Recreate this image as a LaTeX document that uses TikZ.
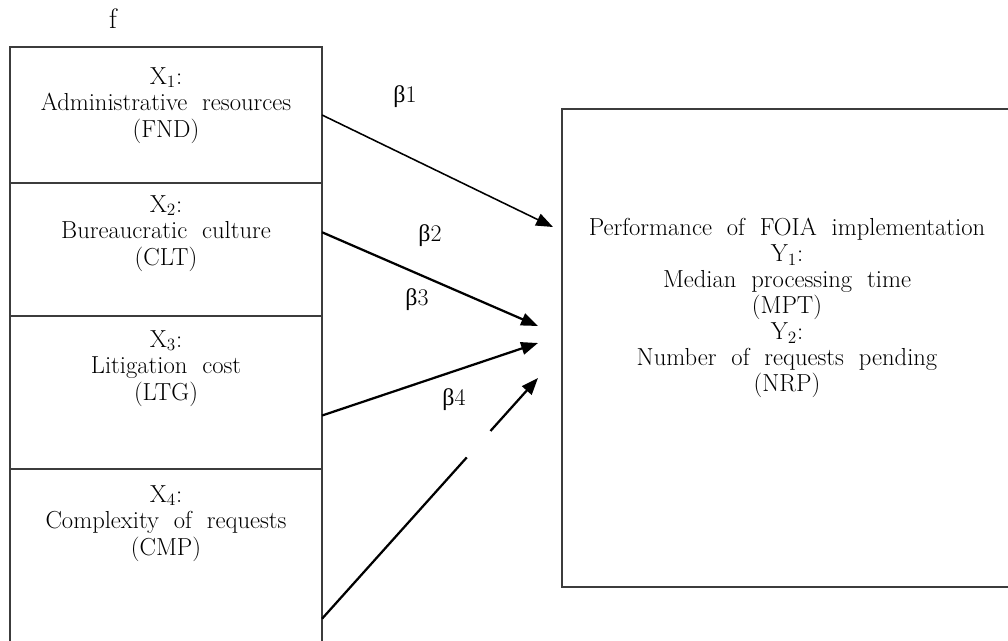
\documentclass[tikz,border=0pt]{standalone}
\usepackage{fontspec}
\setmainfont{Latin Modern Roman}[WordSpace=2]
\usepackage{tikz}
\usetikzlibrary{arrows.meta,calc,positioning}
\newfontfamily\betafont{Liberation Serif}
\definecolor{boxgray}{HTML}{3C3C3C}

\begin{document}
\begin{tikzpicture}[x=0.025cm,y=-0.025cm,
  var/.style={draw=boxgray,line width=1pt,minimum width=7.8cm,
              inner sep=0pt,outer sep=0pt},
  txt/.style={align=center,inner sep=0pt,font=\fontsize{17.5}{19}\selectfont},
  lab/.style={font=\fontsize{17}{19}\selectfont,inner sep=0pt},
  arr/.style={draw,line width=1.6pt,-{Triangle[length=12pt,width=9pt]}},
  node distance=0cm]
  \useasboundingbox (0,0) rectangle (1008,640);
  \node[txt,font=\fontsize{20}{22}\selectfont] (f) at (113,19) {f};
  \node[var,minimum height=3.4cm] (fnd) at (166,115) {};
  \node[var,minimum height=3.325cm,below=of fnd] (clt) {};
  \node[var,minimum height=3.825cm,below=of clt] (ltg) {};
  \node[var,minimum height=4.4cm,below=of ltg] (cmp) {};
  \node[var,minimum width=11.25cm,minimum height=11.95cm] (perf) at (787,348) {};
  \node[txt,below=0.5cm of fnd.north] (fndtxt) {X\textsubscript{1}:\\Administrative resources\\(FND)};
  \node[txt,below=0.3cm of clt.north] (clttxt) {X\textsubscript{2}:\\Bureaucratic culture\\(CLT)};
  \node[txt,below=0.35cm of ltg.north] (ltgtxt) {X\textsubscript{3}:\\Litigation cost\\(LTG)};
  \node[txt,below=0.4cm of cmp.north] (cmptxt) {X\textsubscript{4}:\\Complexity of requests\\(CMP)};
  \node[txt,font=\fontsize{17.5}{18.5}\selectfont,below=2.72cm of perf.north] (perftxt)
    {Performance of FOIA implementation\\Y\textsubscript{1}:\\Median processing time\\(MPT)\\
     Y\textsubscript{2}:\\Number of requests pending\\(NRP)};
  \coordinate (t1) at (553,227);
  \coordinate (t2) at (538,326);
  \coordinate (t3) at (538,343);
  \coordinate (t4) at (538,378);
  \coordinate (s4) at ($(cmp.north east)!0.85!(cmp.south east)$);
  \coordinate (g1) at ($(s4)!0.67!(t4)$);
  \coordinate (g2) at ($(s4)!0.78!(t4)$);
  \draw[arr,line width=1.1pt] (fnd.east) -- (t1);
  \draw[arr] ($(clt.north east)!0.37!(clt.south east)$) -- (t2);
  \draw[arr] ($(ltg.north east)!0.65!(ltg.south east)$) -- (t3);
  \draw[line width=1.6pt] (s4) -- (g1);
  \draw[arr] (g2) -- (t4);
  \node[lab] (b1) at (405,97) {{\betafont β}1};
  \node[lab] (b2) at (430,236) {{\betafont β}2};
  \node[lab] (b3) at (417,300) {{\betafont β}3};
  \node[lab] (b4) at (454,400) {{\betafont β}4};
\end{tikzpicture}
\end{document}
